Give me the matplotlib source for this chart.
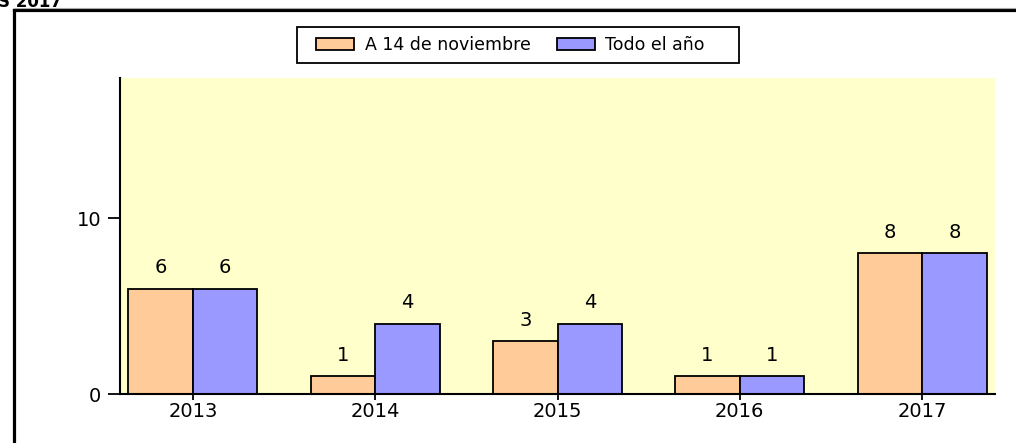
import matplotlib
matplotlib.use("Agg")
import matplotlib.pyplot as plt
import numpy as np
from matplotlib.patches import Rectangle
from matplotlib.lines import Line2D

years = ["2013", "2014", "2015", "2016", "2017"]
hasta_fecha = [6, 1, 3, 1, 8]
todo_anio = [6, 4, 4, 1, 8]
series_labels = ["A 14 de noviembre", "Todo el año"]
title_text = "S 2017"

W, H = 1016, 443
fs = 12.5      # legend
fs_num = 14    # tick labels and bar values
plt.rcParams["font.family"] = "DejaVu Sans"

fig = plt.figure(figsize=(W / 100, H / 100), dpi=100)

# outer frame (cut off at right and bottom)
fig.add_artist(Line2D([14 / W, 1.0], [1 - 10 / H, 1 - 10 / H], color="black", lw=2.3))
fig.add_artist(Line2D([14 / W, 14 / W], [0.0, 1 - 10 / H], color="black", lw=2.3))
fig.add_artist(Line2D([14 / W, 1.0], [1 - 7.5 / H, 1 - 7.5 / H], color="#aaaaaa", lw=0.8))
fig.text(62 / W, 1 - 7 / H, title_text, ha="right", va="baseline", fontsize=12, fontweight="bold")

ax = fig.add_axes([120 / W, (H - 394) / H, (995 - 120) / W, (394 - 77.5) / H])
ax.set_facecolor("#FFFFCC")

x = np.arange(len(years))
w = 0.354
b1 = ax.bar(x - w / 2, hasta_fecha, w, color="#FFCC99", edgecolor="black", linewidth=1.3, label=series_labels[0])
b2 = ax.bar(x + w / 2, todo_anio, w, color="#9999FF", edgecolor="black", linewidth=1.3, label=series_labels[1])

for bars, vals in ((b1, hasta_fecha), (b2, todo_anio)):
    for r, v in zip(bars, vals):
        ax.annotate(str(v), (r.get_x() + r.get_width() / 2, v), xytext=(0, 15),
                    textcoords="offset points", ha="center", va="center", fontsize=fs_num)

ax.set_xlim(-0.4, 4.4)
ax.set_ylim(0, 18)
ax.set_xticks(x)
ax.set_xticklabels(years, fontsize=fs_num)
ax.set_yticks([0, 10])
ax.set_yticklabels(["0", "10"], fontsize=fs_num)
ax.tick_params(axis="y", length=8.5, width=1.3, pad=5)
ax.tick_params(axis="x", length=4, width=1.3, pad=2)
for s in ("top", "right"):
    ax.spines[s].set_visible(False)
for s in ("left", "bottom"):
    ax.spines[s].set_linewidth(1.5)

# legend with its own box
fig.add_artist(Rectangle((297 / W, 1 - 63 / H), (739 - 297) / W, 36 / H, transform=fig.transFigure,
                         facecolor="white", edgecolor="black", lw=1.3))
leg = fig.legend(handles=[b1, b2], loc="center left", bbox_to_anchor=(304 / W, 1 - 45 / H),
                 ncol=2, frameon=False, fontsize=fs, handlelength=2.2, handleheight=0.75,
                 handletextpad=0.6, columnspacing=1.5, borderpad=0.2)

fig.savefig("out.png", dpi=100)
